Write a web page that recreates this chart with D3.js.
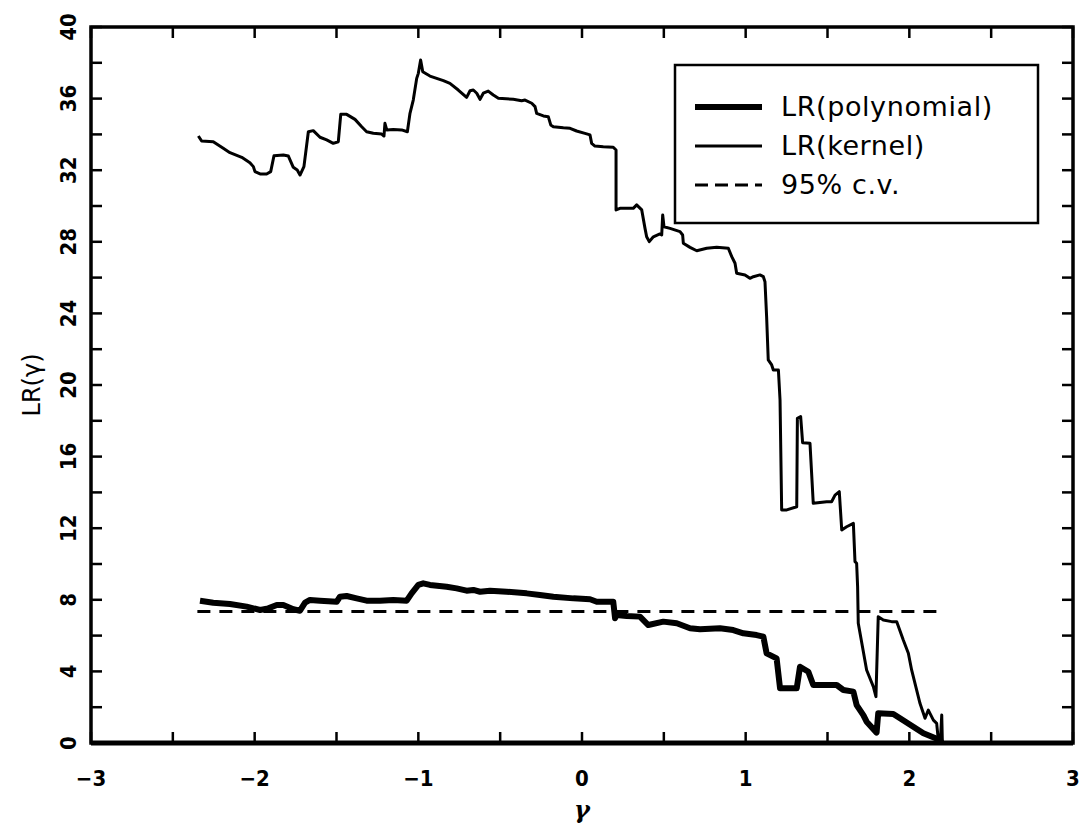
<!DOCTYPE html>
<html><head><meta charset="utf-8">
<script src="https://cdn.jsdelivr.net/npm/d3@7"></script>
<style>body{margin:0;background:#fff;} svg{display:block;}</style>
</head><body>
<svg id="chart" width="1082" height="827"></svg>
<script>
// ---- data ----
const kernelX = [-2.344,-2.324,-2.253,-2.192,-2.151,-2.079,-2.029,-2.008,-1.998,-1.967,-1.927,-1.902,-1.882,-1.825,-1.794,-1.764,-1.740,-1.723,-1.699,-1.672,-1.642,-1.601,-1.560,-1.520,-1.489,-1.474,-1.438,-1.387,-1.346,-1.316,-1.275,-1.224,-1.210,-1.204,-1.193,-1.153,-1.102,-1.067,-1.051,-1.031,-1.010,-1.000,-0.986,-0.973,-0.929,-0.847,-0.807,-0.756,-0.705,-0.684,-0.664,-0.643,-0.623,-0.603,-0.573,-0.542,-0.511,-0.420,-0.369,-0.348,-0.307,-0.287,-0.277,-0.236,-0.206,-0.191,-0.175,-0.114,-0.073,-0.033,0.018,0.049,0.059,0.079,0.130,0.191,0.208,0.208,0.232,0.313,0.334,0.365,0.385,0.395,0.411,0.436,0.476,0.487,0.493,0.501,0.538,0.599,0.615,0.619,0.660,0.701,0.762,0.823,0.894,0.915,0.935,0.945,0.996,1.026,1.047,1.087,1.108,1.118,1.128,1.138,1.159,1.169,1.200,1.210,1.220,1.251,1.312,1.316,1.336,1.348,1.393,1.413,1.495,1.525,1.546,1.572,1.587,1.617,1.658,1.668,1.678,1.684,1.688,1.739,1.780,1.796,1.810,1.841,1.892,1.923,1.963,1.994,2.014,2.065,2.096,2.116,2.147,2.167,2.177,2.191,2.198,2.202];
const kernelY = [33.91,33.63,33.59,33.22,32.98,32.72,32.42,32.20,31.92,31.79,31.79,31.92,32.81,32.85,32.79,32.16,32.01,31.73,32.20,34.15,34.21,33.84,33.69,33.50,33.59,35.12,35.12,34.84,34.43,34.15,34.06,34.02,33.91,34.62,34.25,34.28,34.25,34.15,35.18,35.92,37.13,37.41,38.16,37.50,37.26,37.00,36.85,36.48,36.07,36.44,36.48,36.30,35.96,36.30,36.42,36.20,36.02,35.96,35.88,35.92,35.74,35.55,35.18,35.03,34.99,34.53,34.43,34.37,34.34,34.19,34.06,33.97,33.50,33.35,33.31,33.28,33.13,29.78,29.87,29.87,30.06,29.78,28.75,28.28,28.01,28.28,28.44,28.38,29.50,28.84,28.75,28.57,28.38,27.92,27.69,27.50,27.64,27.69,27.64,27.17,26.80,26.24,26.15,25.96,26.05,26.15,26.05,25.77,23.82,21.40,21.12,20.84,20.84,19.16,13.02,13.02,13.20,18.14,18.23,16.78,16.74,13.39,13.48,13.48,13.85,14.04,11.90,12.08,12.27,10.13,10.04,8.73,6.69,4.08,3.15,2.59,7.06,6.87,6.78,6.78,5.75,5.01,4.08,2.22,1.38,1.84,1.28,1.10,0.17,0.35,1.56,0.0];
const polyX = [-2.334,-2.253,-2.151,-2.049,-1.967,-1.917,-1.865,-1.825,-1.764,-1.723,-1.692,-1.662,-1.601,-1.499,-1.479,-1.438,-1.377,-1.316,-1.234,-1.153,-1.071,-1.041,-1.000,-0.970,-0.929,-0.827,-0.766,-0.705,-0.664,-0.623,-0.562,-0.460,-0.338,-0.257,-0.175,-0.053,0.049,0.090,0.191,0.202,0.212,0.273,0.354,0.405,0.497,0.579,0.660,0.721,0.843,0.924,0.986,1.067,1.108,1.128,1.189,1.210,1.312,1.332,1.383,1.413,1.556,1.597,1.658,1.678,1.719,1.739,1.800,1.810,1.902,1.943,2.024,2.086,2.187,2.198];
const polyY = [7.95,7.84,7.77,7.62,7.43,7.52,7.71,7.71,7.47,7.39,7.84,7.99,7.95,7.89,8.17,8.21,8.08,7.95,7.95,7.99,7.95,8.36,8.83,8.92,8.83,8.73,8.64,8.51,8.55,8.45,8.51,8.45,8.36,8.27,8.17,8.08,8.03,7.89,7.89,6.97,7.15,7.09,7.06,6.59,6.78,6.69,6.41,6.35,6.41,6.31,6.13,6.03,5.94,5.01,4.73,3.06,3.06,4.26,3.98,3.24,3.24,2.96,2.87,2.12,1.56,1.19,0.58,1.66,1.62,1.38,0.91,0.54,0.17,0.0];
const cvX = [-2.35, 2.2];
const cvValue = 7.35;
const xTicks = [-3,-2,-1,0,1,2,3];
const yTicks = [0,4,8,12,16,20,24,28,32,36,40];
const legendLabels = ["LR(polynomial)", "LR(kernel)", "95% c.v."];

// ---- layout ----
const svg = d3.select("#chart");
const L = 91, R = 1073, T = 27, B = 743;
const x = d3.scaleLinear().domain([-3, 3]).range([L, R]);
const y = d3.scaleLinear().domain([0, 40]).range([B, T]);
const tickFont = "'DejaVu Sans Condensed','DejaVu Sans',sans-serif";

const g = svg.append("g");

// ticks (inward, all four sides)
const xMinor = d3.range(-3, 3.01, 0.5);
const yMinor = d3.range(0, 40.01, 2);
const tl = 11;
g.append("g").selectAll("line").data(xMinor).join("line")
  .attr("x1", d => x(d)).attr("x2", d => x(d)).attr("y1", B).attr("y2", B - tl)
  .attr("stroke", "#000").attr("stroke-width", 2.5);
g.append("g").selectAll("line").data(xMinor).join("line")
  .attr("x1", d => x(d)).attr("x2", d => x(d)).attr("y1", T).attr("y2", T + tl)
  .attr("stroke", "#000").attr("stroke-width", 2.5);
g.append("g").selectAll("line").data(yMinor).join("line")
  .attr("x1", L).attr("x2", L + tl).attr("y1", d => y(d)).attr("y2", d => y(d))
  .attr("stroke", "#000").attr("stroke-width", 2.5);
g.append("g").selectAll("line").data(yMinor).join("line")
  .attr("x1", R).attr("x2", R - tl).attr("y1", d => y(d)).attr("y2", d => y(d))
  .attr("stroke", "#000").attr("stroke-width", 2.5);

// frame
g.append("rect").attr("x", L).attr("y", T).attr("width", R - L).attr("height", B - T)
  .attr("fill", "none").attr("stroke", "#000").attr("stroke-width", 3.5);
g.append("line").attr("x1", L).attr("x2", R).attr("y1", B).attr("y2", B)
  .attr("stroke", "#000").attr("stroke-width", 5);

// tick labels
g.append("g").selectAll("text").data(xTicks).join("text")
  .attr("x", d => x(d)).attr("y", 786)
  .attr("text-anchor", "middle")
  .attr("font-family", tickFont).attr("font-weight", "bold").attr("font-size", 22)
  .text(d => d < 0 ? "\u2212" + Math.abs(d) : d);
g.append("g").selectAll("text").data(yTicks).join("text")
  .attr("transform", d => `translate(76,${y(d)}) rotate(-90)`)
  .attr("text-anchor", "middle")
  .attr("font-family", tickFont).attr("font-weight", "bold").attr("font-size", 22)
  .text(d => d);

// axis titles
g.append("text").attr("transform", `translate(40,${(T + B) / 2}) rotate(-90)`)
  .attr("text-anchor", "middle").attr("font-family", "'DejaVu Sans',sans-serif")
  .attr("font-size", 24).text("LR(\u03B3)");
g.append("text").attr("x", x(0)).attr("y", 818).attr("text-anchor", "middle")
  .attr("font-family", "'DejaVu Serif',serif").attr("font-style", "italic").attr("font-weight", "bold")
  .attr("font-size", 24).text("\u03B3");

// lines
const line = d3.line().x(d => x(d[0])).y(d => y(d[1]));
const kernel = kernelX.map((v, i) => [v, kernelY[i]]);
const poly = polyX.map((v, i) => [v, polyY[i]]);
g.append("path").datum(cvX.map(v => [v, cvValue])).attr("d", line)
  .attr("fill", "none").attr("stroke", "#000").attr("stroke-width", 3).attr("stroke-dasharray", "13,9");
g.append("path").datum(kernel).attr("d", line)
  .attr("fill", "none").attr("stroke", "#000").attr("stroke-width", 3).attr("stroke-linejoin", "round");
g.append("path").datum(poly).attr("d", line)
  .attr("fill", "none").attr("stroke", "#000").attr("stroke-width", 6).attr("stroke-linejoin", "round");

// legend
const lg = g.append("g");
lg.append("rect").attr("x", 675).attr("y", 65).attr("width", 363).attr("height", 158)
  .attr("fill", "#fff").attr("stroke", "#000").attr("stroke-width", 2.5);
const rows = [107, 146, 185];
const widths = [6, 3, 3];
const dashes = [null, null, "13,7"];
legendLabels.forEach((lab, i) => {
  const ln = lg.append("line").attr("x1", 695).attr("x2", 762).attr("y1", rows[i]).attr("y2", rows[i])
    .attr("stroke", "#000").attr("stroke-width", widths[i]);
  if (dashes[i]) ln.attr("stroke-dasharray", dashes[i]);
  lg.append("text").attr("x", 781).attr("y", rows[i] + 9)
    .attr("font-family", "'DejaVu Sans',sans-serif").attr("font-size", 27)
    .attr("letter-spacing", 0.6).text(lab);
});
</script>
</body></html>
